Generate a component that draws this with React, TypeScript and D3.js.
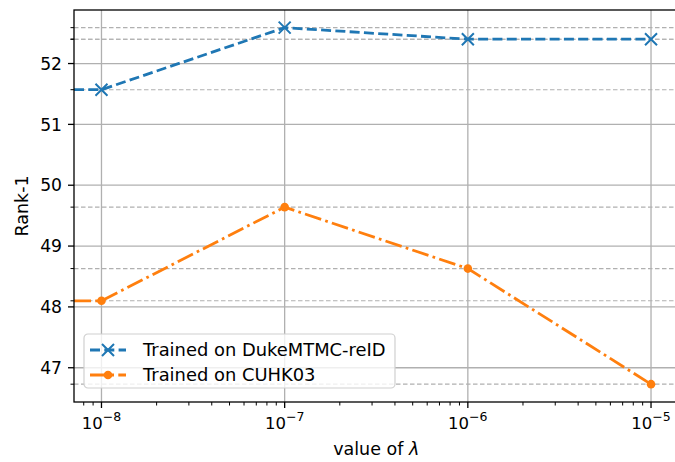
import React, { useEffect, useRef } from 'react';
import * as d3 from 'd3';

// lambda values (exponent of 10)
const lambdas = [1e-8, 1e-7, 1e-6, 1e-5];
const dukeRank1 = [51.57, 52.59, 52.4, 52.4];
const cuhkRank1 = [48.1, 49.64, 48.63, 46.73];
const yTicks = [47, 48, 49, 50, 51, 52];
const seriesNames = ['Trained on DukeMTMC-reID', 'Trained on CUHK03'];

const App = () => {
  const svgRef = useRef<SVGSVGElement>(null);

  useEffect(() => {
    const svg = d3.select(svgRef.current);
    svg.selectAll('*').remove();

    const margin = { top: 10, left: 74 };
    const font = 'DejaVu Sans, sans-serif';

    const x = d3.scaleLog()
      .domain([Math.pow(10, -8.15), Math.pow(10, -4.85)])
      .range([margin.left, 678.5]);
    const y = d3.scaleLinear()
      .domain([46.437, 52.88])
      .range([402, margin.top]);

    const [x0, x1] = x.range();
    const [yb, yt] = y.range();

    const g = svg.append('g');

    svg.append('defs').append('clipPath').attr('id', 'plotclip')
      .append('rect').attr('x', x0).attr('y', yt).attr('width', x1 - x0).attr('height', yb - yt);

    // minor dashed gridlines at each data value
    const minorVals = [...dukeRank1, ...cuhkRank1];
    g.selectAll('.mgrid').data(minorVals).enter().append('line')
      .attr('x1', x0).attr('x2', x1)
      .attr('y1', d => y(d)).attr('y2', d => y(d))
      .attr('stroke', '#b0b0b0').attr('stroke-width', 1.1)
      .attr('stroke-dasharray', '4.5,2.5');

    // major gridlines
    g.selectAll('.ygrid').data(yTicks).enter().append('line')
      .attr('x1', x0).attr('x2', x1)
      .attr('y1', d => y(d)).attr('y2', d => y(d))
      .attr('stroke', '#b0b0b0').attr('stroke-width', 1.3);
    g.selectAll('.xgrid').data(lambdas).enter().append('line')
      .attr('x1', d => x(d)).attr('x2', d => x(d))
      .attr('y1', yt).attr('y2', yb)
      .attr('stroke', '#b0b0b0').attr('stroke-width', 1.3);

    const plot = g.append('g').attr('clip-path', 'url(#plotclip)');
    const line = d3.line<[number, number]>().x(d => x(d[0])).y(d => y(d[1]));
    const xMin = x.domain()[0];

    const series = [
      { vals: dukeRank1, color: '#1f77b4', dash: '10,4.3', marker: 'x' },
      { vals: cuhkRank1, color: '#ff7f0e', dash: '17,4.3,2.7,4.3', marker: 'o' },
    ];

    series.forEach(s => {
      const pts: [number, number][] = [[xMin, s.vals[0]], ...lambdas.map((l, i) => [l, s.vals[i]] as [number, number])];
      plot.append('path')
        .attr('d', line(pts))
        .attr('fill', 'none')
        .attr('stroke', s.color)
        .attr('stroke-width', 2.8)
        .attr('stroke-dasharray', s.dash);
      lambdas.forEach((l, i) => {
        const cx = x(l), cy = y(s.vals[i]);
        if (s.marker === 'x') {
          const r = 6;
          plot.append('path')
            .attr('d', `M${cx - r},${cy - r}L${cx + r},${cy + r}M${cx - r},${cy + r}L${cx + r},${cy - r}`)
            .attr('stroke', s.color).attr('stroke-width', 2);
        } else {
          plot.append('circle').attr('cx', cx).attr('cy', cy).attr('r', 4.3).attr('fill', s.color);
        }
      });
    });

    // spines
    g.append('rect')
      .attr('x', x0).attr('y', yt).attr('width', x1 - x0).attr('height', yb - yt)
      .attr('fill', 'none').attr('stroke', '#000').attr('stroke-width', 1.3);

    // y ticks
    g.selectAll('.ytick').data(yTicks).enter().append('line')
      .attr('x1', x0 - 6).attr('x2', x0)
      .attr('y1', d => y(d)).attr('y2', d => y(d))
      .attr('stroke', '#000').attr('stroke-width', 1.3);
    g.selectAll('.yminor').data(minorVals).enter().append('line')
      .attr('x1', x0 - 3.5).attr('x2', x0)
      .attr('y1', d => y(d)).attr('y2', d => y(d))
      .attr('stroke', '#000').attr('stroke-width', 1);
    g.selectAll('.ylab').data(yTicks).enter().append('text')
      .attr('x', x0 - 12).attr('y', d => y(d))
      .attr('dy', '0.36em')
      .attr('text-anchor', 'end')
      .attr('font-family', font).attr('font-size', 17.2)
      .text(d => d);

    // x ticks
    const minorX: number[] = [];
    for (let e = -9; e <= -5; e++) {
      for (let k = 2; k <= 9; k++) {
        const v = k * Math.pow(10, e);
        if (v > x.domain()[0] && v < x.domain()[1]) minorX.push(v);
      }
    }
    g.selectAll('.xminor').data(minorX).enter().append('line')
      .attr('x1', d => x(d)).attr('x2', d => x(d))
      .attr('y1', yb).attr('y2', yb + 3.5)
      .attr('stroke', '#000').attr('stroke-width', 1);
    g.selectAll('.xtick').data(lambdas).enter().append('line')
      .attr('x1', d => x(d)).attr('x2', d => x(d))
      .attr('y1', yb).attr('y2', yb + 6)
      .attr('stroke', '#000').attr('stroke-width', 1.3);
    const xl = g.selectAll('.xlab').data(lambdas).enter().append('text')
      .attr('x', d => x(d)).attr('y', 429)
      .attr('text-anchor', 'middle')
      .attr('font-family', font).attr('font-size', 16.5);
    xl.append('tspan').text('10');
    xl.append('tspan').attr('dy', -8).attr('font-size', 12.5)
      .text(d => '\u2212' + String(-Math.round(Math.log10(d))));

    // axis labels
    const xlab = svg.append('text')
      .attr('x', (x0 + 678.5) / 2).attr('y', 455)
      .attr('text-anchor', 'middle')
      .attr('font-family', font).attr('font-size', 17.5);
    xlab.append('tspan').text('value of ');
    xlab.append('tspan').attr('font-style', 'italic').text('\u03bb');

    svg.append('text')
      .attr('transform', `translate(28, ${(yt + yb) / 2}) rotate(-90)`)
      .attr('text-anchor', 'middle')
      .attr('font-family', font).attr('font-size', 17.5)
      .text('Rank-1');

    // legend
    const lg = svg.append('g').attr('transform', 'translate(84, 334)');
    lg.append('rect')
      .attr('width', 311).attr('height', 54).attr('rx', 4)
      .attr('fill', 'white').attr('fill-opacity', 0.8)
      .attr('stroke', '#d0d0d0').attr('stroke-width', 1.2);
    series.forEach((s, i) => {
      const ly = 16 + i * 25;
      lg.append('line')
        .attr('x1', 6).attr('x2', 42).attr('y1', ly).attr('y2', ly)
        .attr('stroke', s.color).attr('stroke-width', 2.8)
        .attr('stroke-dasharray', s.dash);
      if (s.marker === 'x') {
        const r = 6, cx = 24;
        lg.append('path')
          .attr('d', `M${cx - r},${ly - r}L${cx + r},${ly + r}M${cx - r},${ly + r}L${cx + r},${ly - r}`)
          .attr('stroke', s.color).attr('stroke-width', 2);
      } else {
        lg.append('circle').attr('cx', 24).attr('cy', ly).attr('r', 4.3).attr('fill', s.color);
      }
      lg.append('text')
        .attr('x', 59).attr('y', ly).attr('dy', '0.36em')
        .attr('font-family', font).attr('font-size', 17.9)
        .text(seriesNames[i]);
    });
  }, []);

  return (
    <svg ref={svgRef} width={675} height={462}
      style={{ position: 'absolute', left: 0, top: 0, background: 'white' }} />
  );
};

export default App;
